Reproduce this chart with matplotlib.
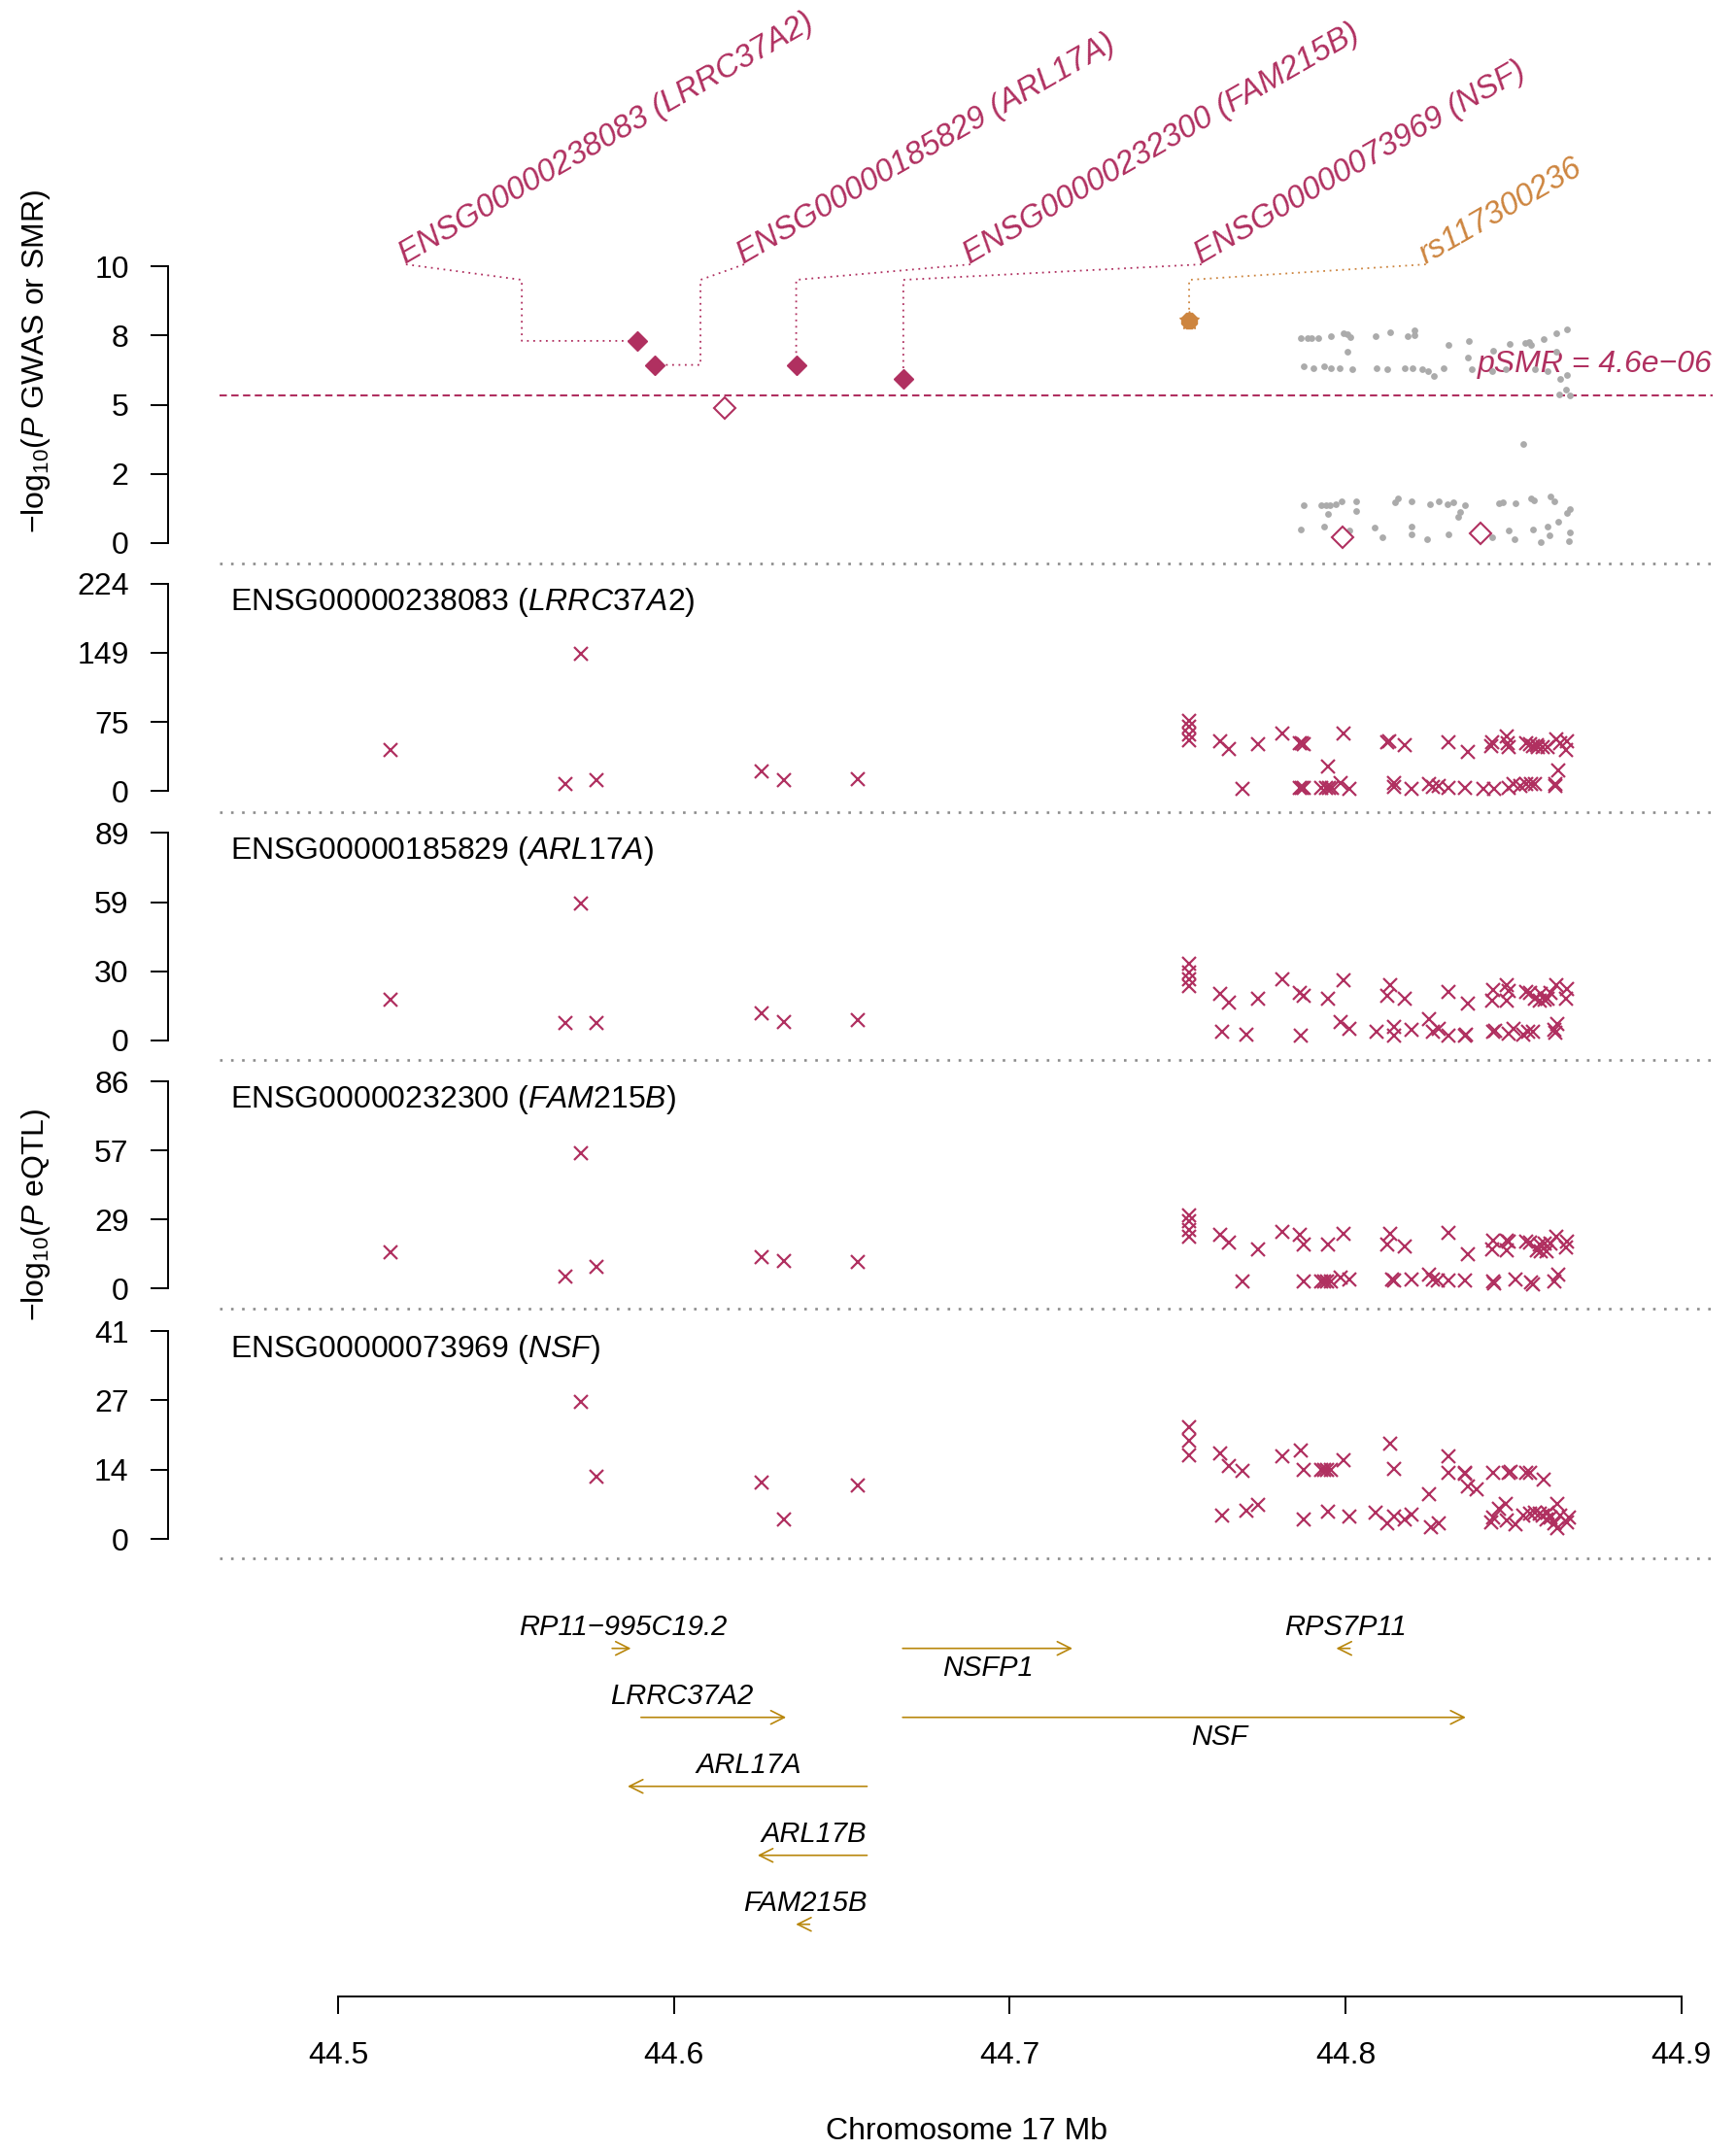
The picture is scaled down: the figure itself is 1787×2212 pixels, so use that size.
import numpy as np
import matplotlib
matplotlib.use("Agg")
import matplotlib.pyplot as plt

plt.rcParams['font.family'] = ['Liberation Sans', 'DejaVu Sans']
plt.rcParams['mathtext.fontset'] = 'custom'
plt.rcParams['mathtext.rm'] = 'Liberation Sans'
plt.rcParams['mathtext.it'] = 'Liberation Sans:italic'

MAROON = '#B03060'
ORANGE = '#CD853F'
GOLD = '#B8860B'
GREY = '#ABABAB'
SEP = '#8C8C8C'

# ---------------- data ----------------
# GWAS SNPs (position Mb, -log10 P)
gwas_x = [44.7867, 44.7886, 44.7898, 44.7919, 44.7955, 44.7994, 44.8006, 44.8013, 44.8004,
          44.8090, 44.8134, 44.8185, 44.8204, 44.8206, 44.8306, 44.8368, 44.8439, 44.8488,
          44.8536, 44.8545, 44.8551, 44.8590, 44.8628, 44.8659, 44.8626,
          44.7875, 44.7904, 44.7937, 44.7957, 44.7981, 44.8021, 44.8092, 44.8124, 44.8176,
          44.8198, 44.8229, 44.8245, 44.8264, 44.8293, 44.8365, 44.8376, 44.8437, 44.8476,
          44.8563, 44.8601, 44.8638, 44.8659, 44.8657, 44.8635, 44.8669,
          44.8529,
          44.7874, 44.7928, 44.7941, 44.7953, 44.7970, 44.7989, 44.7948, 44.8031, 44.8031,
          44.8148, 44.8156, 44.8197, 44.8250, 44.8277, 44.8304, 44.8322, 44.8356, 44.8341,
          44.8334, 44.8457, 44.8468, 44.8507, 44.8551, 44.8561, 44.8609, 44.8621, 44.8667,
          44.8659, 44.8633,
          44.7867, 44.7935, 44.8011, 44.8086, 44.8110, 44.8197, 44.8195, 44.8242, 44.8305,
          44.8394, 44.8437, 44.8486, 44.8502, 44.8558, 44.8580, 44.8602, 44.8607, 44.8669,
          44.8665]
gwas_y = [7.40, 7.40, 7.40, 7.40, 7.48, 7.58, 7.54, 7.46, 6.93,
          7.48, 7.63, 7.48, 7.52, 7.69, 7.17, 7.31, 6.95, 7.19,
          7.22, 7.28, 7.17, 7.38, 7.58, 7.73, 6.93,
          6.38, 6.31, 6.38, 6.33, 6.31, 6.29, 6.31, 6.29, 6.33,
          6.31, 6.29, 6.23, 6.05, 6.31, 6.72, 6.29, 6.23, 6.29,
          6.29, 6.23, 5.93, 6.09, 5.56, 5.37, 5.32,
          3.59,
          1.36, 1.36, 1.36, 1.36, 1.39, 1.50, 1.05, 1.50, 1.15,
          1.48, 1.60, 1.50, 1.41, 1.50, 1.39, 1.46, 1.36, 1.13,
          0.93, 1.44, 1.48, 1.42, 1.62, 1.55, 1.67, 1.50, 1.22,
          1.07, 0.77,
          0.47, 0.59, 0.45, 0.55, 0.19, 0.57, 0.32, 0.14, 0.30,
          0.42, 0.19, 0.46, 0.14, 0.47, 0.04, 0.58, 0.28, 0.39,
          0.06]

# SMR probes
smr_x = [44.5890, 44.5944, 44.6364, 44.6683, 44.6151, 44.7992, 44.8401]
smr_y = [7.31, 6.44, 6.42, 5.93, 4.89, 0.21, 0.33]
smr_sig = [True, True, True, True, False, False, False]
p_smr = 4.6e-06

# labelled probes
probe_ids = ['ENSG00000238083', 'ENSG00000185829', 'ENSG00000232300', 'ENSG00000073969']
probe_genes = ['LRRC37A2', 'ARL17A', 'FAM215B', 'NSF']
probe_idx = [0, 1, 2, 3]
probe_label_x = [44.5202, 44.6209, 44.6883, 44.7571]
probe_elbow_x = [44.5547, 44.6079, 44.6364, 44.6683]

top_snp = 'rs117300236'
top_snp_x = 44.7534
top_snp_y = 8.06
top_snp_label_x = 44.8239

label_y = 10.08
elbow_y = 9.52

# eQTL panels: (position Mb, -log10 P)
eqtl_lrrc37a2 = [
    (44.5155, 44.0), (44.5678, 8.0), (44.5724, 148.5), (44.5770, 11.9), (44.6262, 21.3),
    (44.6328, 12.2), (44.6547, 12.6),
    (44.7533, 76.2), (44.7533, 69.2), (44.7533, 61.1), (44.7533, 55.2), (44.7626, 53.4),
    (44.7652, 45.7), (44.7739, 51.0), (44.7813, 62.2), (44.7864, 51.7), (44.7869, 52.0),
    (44.7874, 50.5), (44.7948, 26.5), (44.7994, 62.2), (44.8124, 52.4), (44.8131, 53.4),
    (44.8175, 49.3), (44.8305, 52.4), (44.8365, 41.9), (44.8433, 48.2), (44.8436, 52.4),
    (44.8481, 58.7), (44.8484, 52.0), (44.8486, 47.5), (44.8539, 52.0), (44.8548, 50.5),
    (44.8558, 48.9), (44.8568, 49.3), (44.8572, 47.2), (44.8587, 47.2), (44.8601, 47.2),
    (44.8628, 56.2), (44.8632, 22.7), (44.8640, 52.0), (44.8657, 44.7), (44.8659, 54.2),
    (44.7692, 2.8), (44.7864, 3.8), (44.7869, 3.8), (44.7874, 3.8), (44.7927, 3.8),
    (44.7941, 3.8), (44.7951, 3.8), (44.7960, 3.8), (44.7986, 8.7), (44.8011, 2.8),
    (44.8143, 8.7), (44.8145, 4.8), (44.8196, 2.8), (44.8249, 7.3), (44.8259, 5.0),
    (44.8278, 6.0), (44.8307, 3.8), (44.8356, 3.8), (44.8409, 2.8), (44.8442, 2.8),
    (44.8486, 3.8), (44.8500, 7.3), (44.8519, 5.9), (44.8539, 7.3), (44.8553, 7.3),
    (44.8563, 7.3), (44.8623, 7.3), (44.8623, 5.2)]

eqtl_arl17a = [
    (44.5155, 17.4), (44.5678, 7.6), (44.5724, 58.7), (44.5770, 7.4), (44.6262, 11.5),
    (44.6328, 7.9), (44.6547, 8.7),
    (44.7533, 32.8), (44.7533, 29.0), (44.7533, 26.1), (44.7533, 23.4), (44.7626, 19.9),
    (44.7652, 16.1), (44.7739, 18.1), (44.7813, 26.4), (44.7864, 20.5), (44.7874, 19.1),
    (44.7948, 17.8), (44.7994, 25.8), (44.8124, 19.1), (44.8134, 23.7), (44.8175, 18.1),
    (44.8305, 20.8), (44.8365, 15.7), (44.8436, 17.1), (44.8438, 21.5), (44.8481, 23.7),
    (44.8481, 17.1), (44.8486, 21.2), (44.8539, 21.0), (44.8548, 20.5), (44.8563, 17.8),
    (44.8578, 17.1), (44.8582, 19.9), (44.8592, 17.4), (44.8601, 17.8), (44.8609, 20.5),
    (44.8626, 23.7), (44.8657, 18.0), (44.8659, 22.0),
    (44.7633, 3.9), (44.7705, 2.5), (44.7867, 2.1), (44.7986, 8.1), (44.8011, 5.0),
    (44.8092, 3.9), (44.8143, 2.1), (44.8145, 6.0), (44.8196, 4.6), (44.8249, 9.0),
    (44.8259, 3.9), (44.8278, 4.9), (44.8307, 2.1), (44.8356, 2.1), (44.8359, 2.5),
    (44.8438, 3.9), (44.8445, 4.3), (44.8486, 3.0), (44.8500, 5.0), (44.8529, 2.5),
    (44.8544, 3.9), (44.8558, 3.9), (44.8621, 4.6), (44.8623, 3.2), (44.8630, 7.1)]

eqtl_fam215b = [
    (44.5155, 15.1), (44.5678, 4.7), (44.5724, 56.3), (44.5770, 8.8), (44.6262, 12.9),
    (44.6328, 11.3), (44.6547, 11.0),
    (44.7533, 30.5), (44.7533, 28.0), (44.7533, 24.3), (44.7533, 21.3), (44.7626, 22.2),
    (44.7652, 18.9), (44.7739, 16.3), (44.7813, 23.3), (44.7864, 22.2), (44.7874, 18.2),
    (44.7948, 18.3), (44.7994, 22.6), (44.8124, 18.2), (44.8134, 22.6), (44.8175, 17.5),
    (44.8305, 23.0), (44.8365, 14.1), (44.8436, 16.2), (44.8438, 19.7), (44.8481, 20.0),
    (44.8481, 15.9), (44.8486, 19.3), (44.8539, 19.5), (44.8548, 19.0), (44.8568, 15.9),
    (44.8577, 18.0), (44.8582, 15.2), (44.8592, 18.6), (44.8597, 15.5), (44.8611, 18.6),
    (44.8626, 21.3), (44.8657, 16.8), (44.8659, 19.5),
    (44.7692, 2.8), (44.7874, 2.8), (44.7927, 2.8), (44.7936, 2.8), (44.7946, 2.8),
    (44.7955, 2.8), (44.7986, 4.4), (44.8011, 3.8), (44.8139, 3.8), (44.8145, 3.4),
    (44.8196, 3.8), (44.8249, 5.8), (44.8259, 3.8), (44.8274, 3.1), (44.8307, 3.1),
    (44.8356, 3.1), (44.8438, 2.8), (44.8442, 2.0), (44.8505, 3.8), (44.8553, 2.4),
    (44.8558, 1.8), (44.8621, 2.8), (44.8632, 5.5)]

eqtl_nsf = [
    (44.5724, 27.0), (44.5770, 12.3), (44.6262, 11.2), (44.6328, 3.9), (44.6547, 10.6),
    (44.7533, 22.1), (44.7533, 19.4), (44.7533, 16.6), (44.7626, 16.9), (44.7652, 14.5),
    (44.7692, 13.4), (44.7813, 16.4), (44.7866, 17.4), (44.7874, 13.6), (44.7927, 13.7),
    (44.7936, 13.7), (44.7946, 13.7), (44.7955, 13.7), (44.7994, 15.5), (44.8134, 18.9),
    (44.8145, 13.9), (44.8305, 16.4), (44.8305, 13.1), (44.8356, 12.8), (44.8356, 13.1),
    (44.8365, 10.4), (44.8389, 9.9), (44.8438, 13.1), (44.8486, 13.1), (44.8491, 13.3),
    (44.8539, 13.1), (44.8548, 13.1), (44.8590, 11.8),
    (44.7633, 4.6), (44.7705, 5.7), (44.7740, 6.7), (44.7875, 3.8), (44.7948, 5.4),
    (44.8011, 4.5), (44.8090, 5.3), (44.8124, 3.1), (44.8145, 4.5), (44.8175, 3.8),
    (44.8196, 4.8), (44.8249, 8.8), (44.8254, 2.4), (44.8278, 3.1), (44.8433, 3.4),
    (44.8438, 4.3), (44.8457, 5.9), (44.8476, 7.0), (44.8481, 3.7), (44.8505, 2.9),
    (44.8529, 4.7), (44.8548, 5.1), (44.8563, 5.3), (44.8577, 5.0), (44.8587, 4.7),
    (44.8597, 3.9), (44.8601, 5.3), (44.8611, 4.3), (44.8621, 3.1), (44.8630, 7.0),
    (44.8640, 4.7), (44.8659, 3.4), (44.8664, 4.3), (44.8630, 2.1)]

eqtl_panels = [eqtl_lrrc37a2, eqtl_arl17a, eqtl_fam215b, eqtl_nsf]
eqtl_ymax = [224, 89, 86, 41]

# genes
gene_names = ['RP11\u2212995C19.2', 'LRRC37A2', 'ARL17A', 'ARL17B', 'FAM215B', 'NSFP1', 'NSF', 'RPS7P11']
gene_start = [44.5816, 44.5902, 44.5862, 44.6249, 44.6363, 44.6681, 44.6681, 44.7972]
gene_end = [44.5872, 44.6334, 44.6575, 44.6575, 44.6404, 44.7187, 44.8358, 44.8013]
gene_strand = ['+', '+', '-', '-', '-', '+', '+', '-']
gene_row = [0, 1, 2, 3, 4, 0, 1, 0]
gene_label_x = [44.5848, 44.6024, 44.6222, 44.6415, 44.6390, 44.6935, 44.7624, 44.8000]
gene_label_above = [True, True, True, True, True, False, False, True]

x_ticks = [44.5, 44.6, 44.7, 44.8, 44.9]

# ---------------- layout (pixels) ----------------
W, H = 1787, 2212
L_PX, R_PX = 226, 1763
XLIM = (44.4647, 44.9093)
FS = 23

fig = plt.figure(figsize=(W / 100, H / 100), dpi=100)


def sep_line(ax):
    ax.plot([0, 1], [0, 0], transform=ax.transAxes, color=SEP, lw=1.9,
            ls=(0, (1, 3.3)), clip_on=False)


def make_panel(top, tick_top, zero, bottom, ymax):
    ax = fig.add_axes([L_PX / W, 1 - bottom / H, (R_PX - L_PX) / W, (bottom - top) / H])
    scale = (zero - tick_top) / ymax
    ax.set_xlim(XLIM)
    ax.set_ylim(-(bottom - zero) / scale, (zero - top) / scale)
    for s in ['top', 'right', 'bottom']:
        ax.spines[s].set_visible(False)
    ax.spines['left'].set_position(('outward', 53 * 0.72))
    ax.spines['left'].set_bounds(0, ymax)
    ax.spines['left'].set_linewidth(1.4)
    ax.tick_params(axis='y', length=13, width=1.4, labelsize=FS, pad=16)
    ax.set_xticks([])
    ax.patch.set_alpha(0)
    sep_line(ax)
    return ax, scale


# ---------------- top panel: GWAS + SMR ----------------
ax, sc = make_panel(0, 274.4, 558.7, 579.7, 10)
ax.set_yticks([0, 2.5, 5, 7.5, 10])
ax.set_yticklabels([str(round(v)) for v in [0, 2.5, 5, 7.5, 10]])

ax.plot(gwas_x, gwas_y, 'o', color=GREY, ms=4.9, mec='none', zorder=2)
thr = -np.log10(p_smr)
ax.axhline(thr, color=MAROON, lw=1.5, ls=(0, (3.6, 2.2)), zorder=1)
ax.text(XLIM[1], thr + 0.84, 'pSMR = 4.6e\u221206', color=MAROON, fontsize=FS,
        fontstyle='italic', ha='right', va='baseline', zorder=1)

for xs, ys, sig in zip(smr_x, smr_y, smr_sig):
    if sig:
        ax.plot(xs, ys, 'D', color=MAROON, ms=10, mec=MAROON, zorder=4)
    else:
        ax.plot(xs, ys, 'D', mfc='white', mec=MAROON, mew=1.5, ms=10.8, zorder=4)

for pid, g, i, lx, ex in zip(probe_ids, probe_genes, probe_idx, probe_label_x, probe_elbow_x):
    px, py = smr_x[i], smr_y[i]
    ax.plot([lx, ex, ex, px], [label_y, elbow_y, py, py], color=MAROON, lw=1.3,
            ls=(0, (1, 2.6)), zorder=3)
    ax.text(lx, label_y, f'{pid} ({g})', color=MAROON, fontsize=23.5, fontstyle='italic',
            rotation=30, rotation_mode='anchor', ha='left', va='baseline', clip_on=False)

ax.plot([top_snp_label_x, top_snp_x, top_snp_x], [label_y, elbow_y, top_snp_y],
        color=ORANGE, lw=1.3, ls=(0, (1, 2.6)), zorder=3)
ax.plot(top_snp_x, top_snp_y, '8', color=ORANGE, ms=13, mec=ORANGE, zorder=5)
ax.plot(top_snp_x, top_snp_y, '*', color=ORANGE, ms=15, mec=ORANGE, zorder=5)
ax.text(top_snp_label_x, label_y, top_snp, color=ORANGE, fontsize=23.5, fontstyle='italic',
        rotation=30, rotation_mode='anchor', ha='left', va='baseline', clip_on=False)

fig.text(37 / W, 1 - 372 / H, r'$\mathrm{-log}_{10}(\mathit{P}\ \mathrm{GWAS\ or\ SMR})$',
         rotation=90, ha='center', va='center', fontsize=FS)

# ---------------- eQTL panels ----------------
panel_px = [(579.7, 600.7, 814.3, 835.7),
            (835.7, 857.3, 1071.0, 1091.0),
            (1091.0, 1113.3, 1326.0, 1347.3),
            (1347.3, 1370.0, 1584.3, 1603.5)]

for data, ymax, (top, tt, zero, bot), pid, g in zip(eqtl_panels, eqtl_ymax, panel_px,
                                                   probe_ids, probe_genes):
    ax, sc = make_panel(top, tt, zero, bot, ymax)
    ticks = np.linspace(0, ymax, 4)
    ax.set_yticks(ticks)
    ax.set_yticklabels([str(round(t)) for t in ticks])
    xs = [d[0] for d in data]
    ys = [d[1] for d in data]
    ax.plot(xs, ys, 'x', color=MAROON, ms=9.6, mew=1.6, ls='none')
    ax.text(44.4678, ymax - 19 / sc, pid + r' ($\mathit{' + g + '}$)', fontsize=FS,
            ha='left', va='center')

fig.text(37 / W, 1 - 1250 / H, r'$\mathrm{-log}_{10}(\mathit{P}\ \mathrm{eQTL})$',
         rotation=90, ha='center', va='center', fontsize=FS)

# ---------------- gene track + x axis ----------------
g_top, g_bot = 1603.5, 2055.0
row0, row_step = 1696.7, 71.0
axg = fig.add_axes([L_PX / W, 1 - g_bot / H, (R_PX - L_PX) / W, (g_bot - g_top) / H])
axg.set_xlim(XLIM)
axg.set_ylim((g_bot - row0) / row_step, (g_top - row0) / row_step)
axg.patch.set_alpha(0)
for s in ['top', 'right', 'left']:
    axg.spines[s].set_visible(False)
axg.spines['bottom'].set_bounds(x_ticks[0], x_ticks[-1])
axg.spines['bottom'].set_linewidth(1.4)
axg.set_yticks([])
axg.set_xticks(x_ticks)
axg.set_xticklabels([f'{t:.1f}' for t in x_ticks])
axg.tick_params(axis='x', length=13, width=1.4, labelsize=FS, pad=20)
axg.set_xlabel('Chromosome 17 Mb', fontsize=FS, labelpad=35)

for name, s, e, st, r, lx, above in zip(gene_names, gene_start, gene_end, gene_strand,
                                        gene_row, gene_label_x, gene_label_above):
    a, b = (s, e) if st == '+' else (e, s)
    axg.annotate('', xy=(b, r), xytext=(a, r),
                 arrowprops=dict(arrowstyle='->,head_length=0.5,head_width=0.25',
                                 color=GOLD, lw=1.2, mutation_scale=20,
                                 shrinkA=0, shrinkB=0))
    ty = r - 0.3 if above else r + 0.29
    axg.text(lx, ty, name, fontsize=21, fontstyle='italic', ha='center', va='center')

fig.savefig('out.png', dpi=100)
